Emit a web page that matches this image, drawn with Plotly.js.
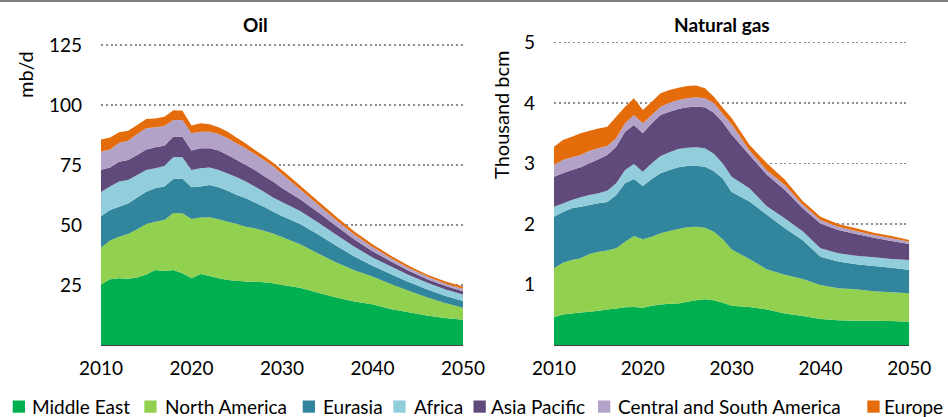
<!DOCTYPE html>
<html><head><meta charset="utf-8">
<script src="https://cdn.plot.ly/plotly-3.0.1.min.js"></script>
<style>html,body{margin:0;padding:0;background:#fff}#chart{width:948px;height:417px}</style>
</head><body><div id="chart"></div>
<script>
// ---------- data ----------
const regions = ['Middle East','North America','Eurasia','Africa','Asia Pacific','Central and South America','Europe'];
const colors  = ['#00B050','#92D050','#31859C','#92CDDC','#604A7B','#B3A2C7','#E46C0A'];

const years = [2010,2011,2012,2013,2014,2015,2016,2017,2018,2019,2020,2021,2022,2023,2024,2025,2026,2027,2028,2029,2030,
               2032,2034,2036,2038,2040,2042,2044,2046,2048,2050];

// Oil (mb/d)
const oilMiddleEast   = [25.2,27.4,27.8,27.6,28.1,29.4,31.2,30.8,31.3,29.9,27.8,29.6,28.8,27.8,27.1,26.8,26.5,26.4,26.1,25.7,25.0,23.9,21.8,19.8,18.1,17.0,15.0,13.6,12.3,11.25,10.5];
const oilNorthAmerica = [15.3,16.1,17.3,18.6,20.1,21.0,20.2,21.3,23.7,25.0,24.7,23.5,24.4,24.6,24.3,23.6,22.8,22.2,21.5,20.8,20.0,18.1,16.3,14.6,13.0,11.5,10.4,9.0,7.6,6.3,5.0];
const oilEurasia      = [13.1,12.7,12.5,12.8,13.3,13.5,13.9,13.9,14.2,14.5,13.2,12.9,13.5,13.3,12.9,12.1,11.8,10.8,10.0,9.1,8.8,8.4,7.9,7.0,5.8,4.5,4.2,3.7,3.3,3.0,2.8];
const oilAfrica       = [10.2,9.8,10.5,9.8,9.3,9.0,8.3,8.6,9.1,8.8,7.2,7.6,7.3,7.2,7.2,7.4,7.0,6.6,6.3,5.9,5.8,5.4,5.0,4.5,4.0,3.5,3.2,2.9,2.8,2.7,2.7];
const oilAsiaPacific  = [9.2,8.0,8.3,8.3,8.4,8.6,8.8,8.4,8.6,8.6,8.1,8.4,8.0,8.1,7.7,7.2,6.9,6.9,6.5,6.6,5.8,4.9,4.3,3.7,3.1,2.6,2.1,1.7,1.5,1.4,1.4];
const oilCSAmerica    = [7.6,7.5,7.9,8.0,8.7,8.8,8.3,8.2,6.9,6.9,7.2,6.9,6.9,6.9,6.9,6.9,6.9,6.7,6.7,6.5,5.8,4.2,3.1,2.4,2.0,1.7,1.4,1.2,1.1,1.0,1.0];
const oilEurope       = [5.0,5.0,4.3,4.2,3.8,3.9,3.7,3.9,4.0,3.9,3.3,3.5,3.1,2.8,2.8,2.4,2.1,1.6,1.7,1.4,1.7,1.6,1.5,1.4,1.3,1.2,1.0,0.9,0.8,0.9,1.0];

// Natural gas (thousand bcm)
const gasMiddleEast   = [0.46,0.505,0.52,0.536,0.548,0.565,0.586,0.603,0.625,0.63,0.614,0.647,0.669,0.68,0.686,0.713,0.74,0.757,0.74,0.70,0.65,0.63,0.585,0.52,0.48,0.43,0.41,0.40,0.40,0.395,0.385];
const gasNorthAmerica = [0.807,0.856,0.885,0.897,0.956,0.978,0.974,0.995,1.083,1.172,1.132,1.143,1.177,1.204,1.231,1.232,1.216,1.183,1.13,1.05,0.93,0.79,0.665,0.64,0.61,0.56,0.53,0.52,0.49,0.475,0.469];
const gasEurasia      = [0.854,0.839,0.854,0.854,0.81,0.799,0.804,0.881,0.964,0.942,0.882,0.954,0.991,1.009,1.02,1.014,1.008,1.008,1.0,1.0,0.95,0.95,0.90,0.77,0.64,0.47,0.44,0.413,0.416,0.408,0.386];
const gasAfrica       = [0.165,0.14,0.138,0.154,0.165,0.165,0.187,0.193,0.221,0.248,0.237,0.259,0.287,0.292,0.303,0.303,0.304,0.302,0.29,0.25,0.25,0.22,0.14,0.16,0.15,0.14,0.135,0.144,0.143,0.144,0.165];
const gasAsiaPacific  = [0.496,0.497,0.496,0.496,0.524,0.562,0.589,0.606,0.633,0.644,0.635,0.661,0.678,0.672,0.661,0.666,0.671,0.678,0.68,0.68,0.70,0.55,0.52,0.47,0.38,0.41,0.385,0.358,0.325,0.297,0.264];
const gasCSAmerica    = [0.193,0.221,0.209,0.203,0.209,0.181,0.149,0.138,0.138,0.166,0.164,0.138,0.137,0.148,0.149,0.149,0.155,0.149,0.16,0.14,0.17,0.08,0.07,0.085,0.06,0.056,0.056,0.049,0.044,0.044,0.039];
const gasEurope       = [0.303,0.33,0.341,0.359,0.331,0.33,0.32,0.358,0.275,0.275,0.22,0.22,0.221,0.21,0.203,0.204,0.196,0.165,0.105,0.10,0.10,0.09,0.12,0.085,0.06,0.054,0.044,0.044,0.039,0.037,0.028];

const xTicks   = [2010,2020,2030,2040,2050];
const oilTicks = [25,50,75,100,125];
const gasTicks = [1,2,3,4,5];

// ---------- drawing ----------
const oilData = [oilMiddleEast,oilNorthAmerica,oilEurasia,oilAfrica,oilAsiaPacific,oilCSAmerica,oilEurope];
const gasData = [gasMiddleEast,gasNorthAmerica,gasEurasia,gasAfrica,gasAsiaPacific,gasCSAmerica,gasEurope];

const W = 948, H = 417;
const px = v => v / W, py = v => 1 - v / H;
const FONT = 'Lato, "Open Sans", "Liberation Sans", sans-serif';

function mk(data, xa, ya, grp) {
  return regions.map((r, i) => ({
    type: 'scatter', x: years, y: data[i], xaxis: xa, yaxis: ya,
    stackgroup: grp, mode: 'none', fillcolor: colors[i], line: {width: 0},
    name: r, showlegend: false, hoverinfo: 'skip'
  }));
}
const traces = mk(oilData, 'x', 'y', 'oil').concat(mk(gasData, 'x2', 'y2', 'gas'));

const gridStyle = {showgrid: true, gridcolor: '#8c8c8c', gridwidth: 1.6, griddash: '2px,2.8px',
  zeroline: false, showline: false, ticks: '', ticklabelstandoff: 18,
  tickfont: {family: FONT, size: 19, color: '#000'}, fixedrange: true};
const xStyle = {range: [2010, 2050], tickvals: xTicks, showgrid: false, zeroline: false,
  showline: true, linecolor: '#404040', linewidth: 1.3, ticks: '', ticklabelstandoff: 6,
  tickfont: {family: FONT, size: 19, color: '#000'}, fixedrange: true};

const plotTop = 40, plotBot = 345;
const oilScale = (plotBot - 45) / 125;      // px per unit
const gasScale = (plotBot - 42.5) / 5;

const annotations = [
  {text: '<b>Oil</b>', x: px(256), y: py(25)},
  {text: '<b>Natural gas</b>', x: px(722), y: py(25)},
].map(a => Object.assign(a, {xref: 'paper', yref: 'paper', showarrow: false,
  xanchor: 'center', yanchor: 'middle', font: {family: FONT, size: 19, color: '#000'}}));

annotations.push({text: 'mb/d', x: px(25), y: py(75), textangle: -90});
annotations.push({text: 'Thousand bcm', x: px(501), y: py(115), textangle: -90});
annotations.slice(2).forEach(a => Object.assign(a, {xref: 'paper', yref: 'paper', showarrow: false,
  xanchor: 'center', yanchor: 'middle', font: {family: FONT, size: 20, color: '#000'}}));

// legend (manual, to match square swatches)
const swX = [12.7, 144.3, 302.7, 393.3, 473.5, 598, 867.3];
const txX = [30, 163, 321, 412, 489, 616, 882];
const shapes = [{type: 'rect', xref: 'paper', yref: 'paper', x0: 0, x1: 1, y0: py(2), y1: 1,
  fillcolor: '#808080', line: {width: 0}}];
regions.forEach((r, i) => {
  shapes.push({type: 'rect', xref: 'paper', yref: 'paper', x0: px(swX[i]), x1: px(swX[i] + 12.3),
    y0: py(412.7), y1: py(400.5), fillcolor: colors[i], line: {width: 0}});
  annotations.push({text: r, xref: 'paper', yref: 'paper', x: px(txX[i]), y: py(406.5),
    xanchor: 'left', yanchor: 'middle', showarrow: false, font: {family: FONT, size: 19, color: '#000'}});
});

const layout = {
  width: W, height: H, margin: {l: 0, r: 0, t: 0, b: 0},
  paper_bgcolor: '#fff', plot_bgcolor: '#fff', showlegend: false,
  font: {family: FONT, color: '#000'},
  xaxis: Object.assign({}, xStyle, {domain: [px(101), px(463)], anchor: 'y'}),
  yaxis: Object.assign({}, gridStyle, {domain: [py(plotBot), py(plotTop)], anchor: 'x',
    range: [0, (plotBot - plotTop) / oilScale], tickvals: oilTicks}),
  xaxis2: Object.assign({}, xStyle, {domain: [px(554), px(909.3)], anchor: 'y2'}),
  yaxis2: Object.assign({}, gridStyle, {domain: [py(plotBot), py(plotTop)], anchor: 'x2',
    range: [0, (plotBot - plotTop) / gasScale], tickvals: gasTicks}),
  annotations: annotations, shapes: shapes
};

Plotly.newPlot('chart', traces, layout, {staticPlot: true, displayModeBar: false});
</script></body></html>
